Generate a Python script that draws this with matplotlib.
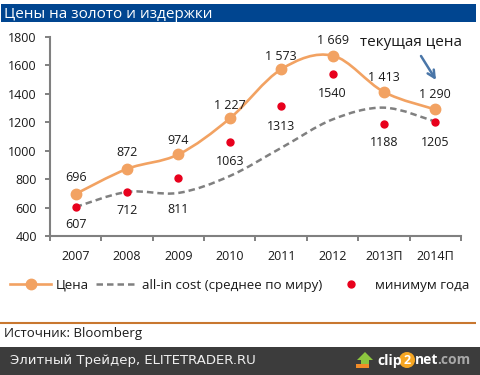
#!/usr/bin/env python3
"""Gold price vs all-in cost chart."""

import matplotlib
matplotlib.use("Agg")
import matplotlib.pyplot as plt
from matplotlib.lines import Line2D
from matplotlib.path import Path
from matplotlib.patches import PathPatch, Rectangle, Circle, Polygon

plt.rcParams['font.family'] = ['Open Sans', 'DejaVu Sans']

years = ['2007', '2008', '2009', '2010', '2011', '2012', '2013П', '2014П']
price = [696, 872, 974, 1227, 1573, 1669, 1413, 1290]
price_labels = ['696', '872', '974', '1 227', '1 573', '1 669', '1 413', '1 290']
cost = [604, 710, 703, 822, 1020, 1220, 1303, 1205]
year_low = [607, 712, 811, 1063, 1313, 1540, 1188, 1205]
yticks = [400, 600, 800, 1000, 1200, 1400, 1600, 1800]

# label offsets from the point, in pixels
price_dy = [16, 16, 14, 13, 13, 15, 15, 15]
low_dy = [-18, -19, -32, -20, -20, -20, -19, -21]

W, H = 480, 375
GREY = '#808080'
ORANGE = '#f2a262'
TEXT = '#1a1a1a'


def smooth_path(xs, ys):
    """Excel style smooth line as a bezier path through the points."""
    n = len(xs)
    verts = [(xs[0], ys[0])]
    codes = [Path.MOVETO]
    for i in range(n - 1):
        x0, y0 = xs[max(i - 1, 0)], ys[max(i - 1, 0)]
        x3, y3 = xs[min(i + 2, n - 1)], ys[min(i + 2, n - 1)]
        verts.append((xs[i] + (xs[i + 1] - x0) / 6, ys[i] + (ys[i + 1] - y0) / 6))
        verts.append((xs[i + 1] - (x3 - xs[i]) / 6, ys[i + 1] - (y3 - ys[i]) / 6))
        verts.append((xs[i + 1], ys[i + 1]))
        codes += [Path.CURVE4] * 3
    return Path(verts, codes)


def draw_chart(fig):
    ax = fig.add_axes([50 / W, 1 - 236 / H, 411 / W, 199 / H])
    x = list(range(len(years)))

    ax.add_patch(PathPatch(smooth_path(x, cost), fill=False, color=GREY, lw=1.8,
                           ls=(0, (2.6, 1.6)), zorder=2))
    ax.add_patch(PathPatch(smooth_path(x, price), fill=False, color=ORANGE, lw=1.9,
                           zorder=3))
    ax.plot(x, price, ls='none', marker='o', ms=7.5, color=ORANGE, zorder=4)
    ax.plot(x, year_low, ls='none', marker='o', ms=5, color='#e8001c', zorder=5)

    for i in x:
        ax.annotate(price_labels[i], (i, price[i]), xytext=(0, price_dy[i]),
                    textcoords='offset pixels', ha='center', va='center',
                    fontsize=9, color=TEXT)
        ax.annotate(str(year_low[i]), (i, year_low[i]), xytext=(0, low_dy[i]),
                    textcoords='offset pixels', ha='center', va='center',
                    fontsize=9, color=TEXT)

    ax.set_xlim(-0.5, 7.5)
    ax.set_ylim(400, 1800)
    ax.set_yticks(yticks)
    ax.set_xticks(x)
    ax.set_xticklabels(years)
    ax.set_xticks([i - 0.5 for i in range(len(years) + 1)], minor=True)
    ax.tick_params(axis='x', which='major', length=0, pad=10, labelsize=9, labelcolor=TEXT)
    ax.tick_params(axis='x', which='minor', length=3.5, width=1.4, color=GREY)
    ax.tick_params(axis='y', length=3.5, width=1.4, color=GREY, pad=6, labelsize=9,
                   labelcolor=TEXT)
    for side in ['top', 'right']:
        ax.spines[side].set_visible(False)
    for side in ['left', 'bottom']:
        ax.spines[side].set_color(GREY)
        ax.spines[side].set_linewidth(1.5)
    ax.patch.set_alpha(0)

    handles = [
        Line2D([], [], color=ORANGE, lw=1.9, marker='o', ms=7.5),
        Line2D([], [], color=GREY, lw=1.8, ls=(0, (2.6, 1.6))),
        Line2D([], [], color='#e8001c', ls='none', marker='o', ms=5),
    ]
    fig.legend(handles, ['Цена', 'all-in cost (среднее по миру)', 'минимум года'],
               ncol=3, frameon=False, loc='center left',
               bbox_to_anchor=(10 / W, 1 - 285 / H), fontsize=9.6, labelcolor=TEXT,
               handlelength=3.1, handletextpad=0.3, columnspacing=0.6,
               borderpad=0, borderaxespad=0)


def draw_decor(fig):
    # overlay in pixel coordinates for the frame, footer and logo
    ov = fig.add_axes([0, 0, 1, 1], zorder=-1)
    ov.set_xlim(0, W)
    ov.set_ylim(H, 0)
    ov.axis('off')

    ov.add_patch(Rectangle((1, 4), 475, 18, color='#004590', lw=0))
    ov.text(4, 14, 'Цены на золото и издержки', color='white', fontsize=11,
            va='center', ha='left')
    ov.text(411, 43, 'текущая цена', color=TEXT, fontsize=11, va='center', ha='center')
    ov.annotate('', xy=(436, 80), xytext=(421, 56),
                arrowprops=dict(arrowstyle='->', color='#4a76a8', lw=1.8,
                                mutation_scale=13, shrinkA=0, shrinkB=0))

    ov.plot([0, 476], [322.5, 322.5], color='#c8772f', lw=1.5, solid_capstyle='butt')
    ov.text(4, 334, 'Источник: Bloomberg', color=TEXT, fontsize=9.5, va='center', ha='left')

    ov.add_patch(Rectangle((0, 347), W, 28, color='#3c3c3c', lw=0))
    ov.text(10, 360.5, 'Элитный Трейдер, ELITETRADER.RU', color='#f0f0f0', fontsize=9.5,
            family='DejaVu Sans', va='center', ha='left')

    # clip2net logo
    ov.add_patch(Polygon([(365, 352), (373, 360), (369, 360), (369, 366), (361, 366),
                          (361, 360), (357, 360)], color='#8cc63f', lw=0))
    ov.add_patch(Rectangle((356, 364), 13, 4, color='#f28c28', lw=0))
    ov.text(377, 360.5, 'clip', color='white', fontsize=10, fontweight='bold',
            family='Open Sans', va='center', ha='left')
    ov.add_patch(Circle((407, 360), 8, color='#f5a623', lw=0))
    ov.text(407, 360.5, '2', color='white', fontsize=9, fontweight='bold',
            family='Open Sans', va='center', ha='center')
    ov.text(415, 360.5, 'net', color='white', fontsize=10, fontweight='bold',
            family='Open Sans', va='center', ha='left')
    ov.text(437.5, 360.5, '.com', color='#a8a8a8', fontsize=10, fontweight='bold',
            family='Open Sans', va='center', ha='left')


def main():
    fig = plt.figure(figsize=(W / 100, H / 100), dpi=100, facecolor='white')
    draw_decor(fig)
    draw_chart(fig)
    fig.savefig('out.png', dpi=100)


if __name__ == "__main__":
    main()
